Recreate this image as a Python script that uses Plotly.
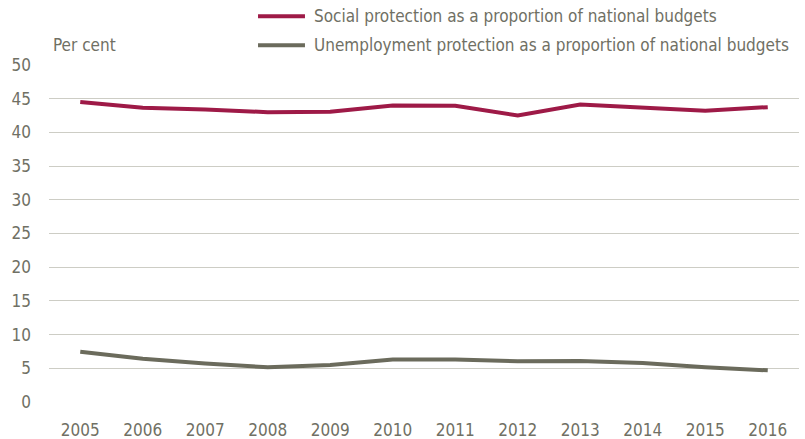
import plotly.graph_objects as go

years = ["2005", "2006", "2007", "2008", "2009", "2010", "2011", "2012", "2013", "2014", "2015", "2016"]
social = [44.5, 43.65, 43.4, 43.0, 43.05, 44.0, 43.95, 42.5, 44.15, 43.7, 43.2, 43.75]
unemployment = [7.45, 6.4, 5.7, 5.15, 5.5, 6.3, 6.3, 6.05, 6.1, 5.8, 5.15, 4.7]
series_names = ["Social protection as a proportion of national budgets",
                "Unemployment protection as a proportion of national budgets"]
y_ticks = [0, 5, 10, 15, 20, 25, 30, 35, 40, 45, 50]

FONT = "Liberation Sans Narrow, Arial Narrow, DejaVu Sans Condensed, sans-serif"
TXT = "#707064"
colors = ["#9e1a47", "#6b6b5c"]

fig = go.Figure()
for vals, name, c in zip([social, unemployment], series_names, colors):
    fig.add_trace(go.Scatter(x=years, y=vals, mode="lines", name=name,
                             line=dict(color=c, width=4), showlegend=False))

# manual legend
leg_y = [1.1443, 1.0588]
for name, c, yy in zip(series_names, colors, leg_y):
    fig.add_shape(type="line", xref="paper", yref="paper", x0=0.2787, x1=0.3413,
                  y0=yy, y1=yy, line=dict(color=c, width=4))
    fig.add_annotation(xref="paper", yref="paper", x=0.350, y=yy, text=name,
                       showarrow=False, xanchor="left", yanchor="middle",
                       font=dict(family=FONT, size=17, color=TXT))

fig.add_annotation(xref="paper", yref="paper", x=0.002, y=1.0588, text="Per cent",
                   showarrow=False, xanchor="left", yanchor="middle",
                   font=dict(family=FONT, size=17, color=TXT))

fig.update_layout(
    width=805, height=439,
    margin=dict(l=49, r=6, t=65, b=37),
    paper_bgcolor="white", plot_bgcolor="white",
    font=dict(family=FONT, size=17, color=TXT),
    xaxis=dict(type="category", range=[-0.5, 11.5], showgrid=False, zeroline=False,
               showline=False, ticks="", ticklabelstandoff=16, automargin=False,
               tickfont=dict(size=17, color=TXT)),
    yaxis=dict(range=[0, 50], tickvals=y_ticks, showgrid=True, gridcolor="#cdcdc5",
               gridwidth=1.3, zeroline=False, showline=False, ticks="", automargin=False,
               ticklabelstandoff=17, tickfont=dict(size=17, color=TXT)),
)

fig.write_html("out.html", config={"displayModeBar": False},
               post_script="document.body.style.margin='0';")
